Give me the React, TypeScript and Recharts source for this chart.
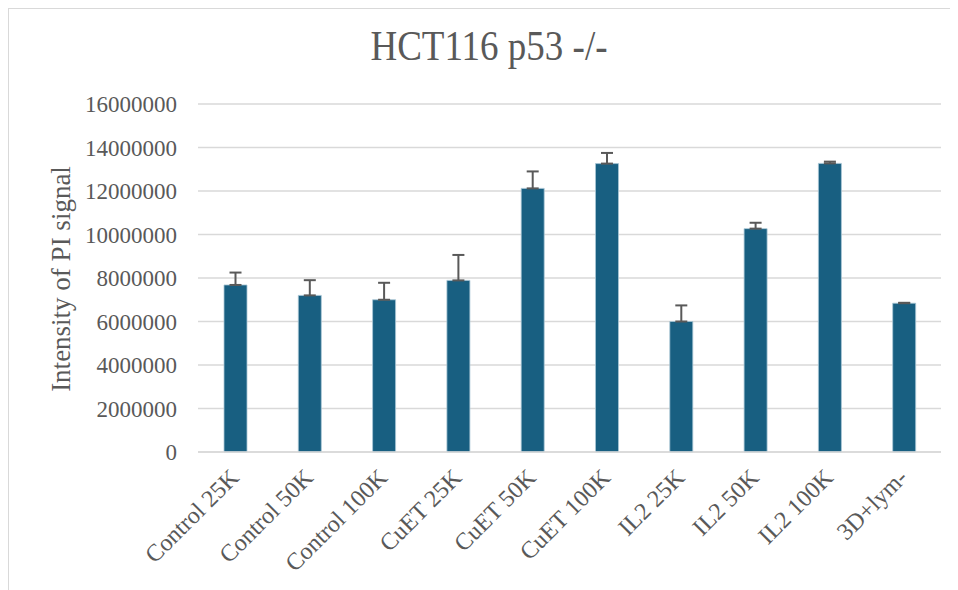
import { BarChart, Bar, XAxis, YAxis, CartesianGrid, ErrorBar } from "recharts";

const SERIF = "'Liberation Serif', 'Times New Roman', serif";
const BAR = "#185f81";
const GRID = "#d9d9d9";
const TEXT = "#595959";

const categories = [
  "Control 25K",
  "Control 50K",
  "Control 100K",
  "CuET 25K",
  "CuET 50K",
  "CuET 100K",
  "IL2 25K",
  "IL2 50K",
  "IL2 100K",
  "3D+lym-",
];
const intensity = [
  7680000, 7200000, 7000000, 7890000, 12120000, 13260000, 6000000, 10270000, 13270000, 6840000,
];
// only the upper half of the error bar is shown
const errorUp = [570000, 700000, 780000, 1170000, 780000, 490000, 740000, 270000, 80000, 20000];
const yTicks = [0, 2000000, 4000000, 6000000, 8000000, 10000000, 12000000, 14000000, 16000000];

const data = categories.map((name, i) => ({
  name,
  value: intensity[i],
  err: [0, errorUp[i]],
}));

function XTick({ x, y, payload }: any) {
  const tx = x + 5;
  const ty = y + 27;
  return (
    <text
      x={tx}
      y={ty}
      transform={`rotate(-45, ${tx}, ${ty})`}
      textAnchor="end"
      fill={TEXT}
      fontSize={24}
      fontFamily={SERIF}
    >
      {payload.value}
    </text>
  );
}

export default function App() {
  return (
    <div
      style={{
        position: "relative",
        width: 950,
        height: 582,
        borderTop: `1px solid ${GRID}`,
        borderLeft: `1px solid ${GRID}`,
        background: "#fff",
        fontFamily: SERIF,
      }}
    >
      <div
        style={{
          position: "absolute",
          left: 480,
          top: 20,
          transform: "translateX(-50%) scaleY(1.12)",
          transformOrigin: "50% 85%",
          whiteSpace: "nowrap",
          fontSize: 37,
          lineHeight: 1,
          color: TEXT,
        }}
      >
        HCT116 p53 -/-
      </div>
      <div
        style={{
          position: "absolute",
          left: 52,
          top: 270,
          transform: "translate(-50%, -50%) rotate(-90deg)",
          whiteSpace: "nowrap",
          fontSize: 27,
          lineHeight: 1,
          color: TEXT,
        }}
      >
        Intensity of PI signal
      </div>
      <BarChart
        width={949}
        height={581}
        data={data}
        margin={{ top: 95, right: 17, left: 0, bottom: 8 }}
        barCategoryGap={0}
      >
        <CartesianGrid stroke={GRID} strokeWidth={1.5} vertical={false} />
        <XAxis
          dataKey="name"
          interval={0}
          height={130}
          axisLine={{ stroke: GRID, strokeWidth: 1.5 }}
          tickLine={false}
          tickSize={0}
          tickMargin={0}
          tick={<XTick />}
        />
        <YAxis
          width={189}
          domain={[0, 16000000]}
          ticks={yTicks}
          axisLine={false}
          tickLine={false}
          tickSize={0}
          tickMargin={21}
          tickFormatter={(v) => String(v)}
          tick={{ fill: TEXT, fontSize: 23, fontFamily: SERIF }}
        />
        <Bar
          dataKey="value"
          fill={BAR}
          stroke="#a9c6d6"
          strokeWidth={0.8}
          barSize={23}
          isAnimationActive={false}
        >
          <ErrorBar dataKey="err" width={6} stroke={TEXT} strokeWidth={2} direction="y" />
        </Bar>
      </BarChart>
    </div>
  );
}
